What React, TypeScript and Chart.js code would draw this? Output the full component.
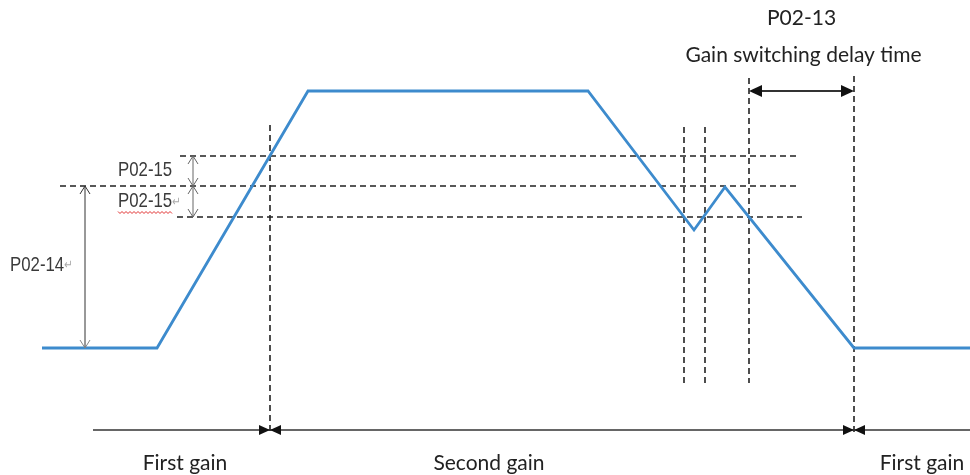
import React, { useEffect, useRef } from "react";
import { Chart, registerables } from "chart.js";

Chart.register(...registerables);

// ---- Data (time units along x, speed units along y) ----
const blueTime = [42, 157, 308, 588, 694, 725, 854, 970];
const blueSpeed = [127, 127, 384, 384, 245, 288, 127, 127];

// horizontal dashed threshold guides: P02-14 + P02-15, P02-14, P02-14 - P02-15
const guideLevels = [319, 289, 258];
const guideStart = [180, 60, 177];
const guideEnd = [798, 798, 802];

// vertical dashed event guides
const markerTimes = [270, 684, 705, 749, 854];
const markerTop = [350, 348, 348, 397, 399];
const markerBottom = [40, 92, 92, 92, 40];

// gain region bar
const gainBarSpeed = 45;
const gainBarStart = 93;
const gainBarEnd = 970;
const gainSwitchTimes = [270, 854];
const gainLabels = ["First gain", "Second gain", "First gain"];
const gainLabelTimes = [185, 489, 922];

// delay arrow
const delaySpeed = 384;
const delayLabelTop = "P02-13";
const delayLabelBottom = "Gain switching delay time";

// parameter arrows
const p14Time = 85;
const p14Label = "P02-14";
const p15Time = 193;
const p15Label = "P02-15";
const baseSpeed = 127;

export default function App() {
  const ref = useRef<HTMLCanvasElement | null>(null);

  useEffect(() => {
    document.body.style.margin = "0";
    const canvas = ref.current;
    if (!canvas) return;

    const datasets: any[] = [
      {
        data: blueTime.map((t, i) => ({ x: t, y: blueSpeed[i] })),
        borderColor: "#3d8bcd",
        borderWidth: 2.8,
        pointRadius: 0,
        tension: 0,
        order: 0,
      },
    ];
    guideLevels.forEach((lv, i) => {
      datasets.push({
        data: [
          { x: guideStart[i], y: lv },
          { x: guideEnd[i], y: lv },
        ],
        borderColor: "#222",
        borderWidth: 1.6,
        borderDash: [6, 4],
        pointRadius: 0,
        order: 1,
      });
    });
    markerTimes.forEach((t, i) => {
      datasets.push({
        data: [
          { x: t, y: markerTop[i] },
          { x: t, y: markerBottom[i] },
        ],
        borderColor: "#222",
        borderWidth: 1.6,
        borderDash: [6, 4],
        pointRadius: 0,
        order: 1,
      });
    });

    const annot = {
      id: "annot",
      afterDatasetsDraw(chart: any) {
        const ctx: CanvasRenderingContext2D = chart.ctx;
        const xs = chart.scales.x;
        const ys = chart.scales.y;
        const X = (v: number) => xs.getPixelForValue(v);
        const Y = (v: number) => ys.getPixelForValue(v);

        const line = (x1: number, y1: number, x2: number, y2: number, color: string, w: number) => {
          ctx.save();
          ctx.strokeStyle = color;
          ctx.lineWidth = w;
          ctx.beginPath();
          ctx.moveTo(x1, y1);
          ctx.lineTo(x2, y2);
          ctx.stroke();
          ctx.restore();
        };
        const tri = (x: number, y: number, dx: number, dy: number, len: number, half: number, color: string) => {
          ctx.save();
          ctx.fillStyle = color;
          ctx.beginPath();
          ctx.moveTo(x, y);
          const bx = x - dx * len;
          const by = y - dy * len;
          ctx.lineTo(bx - dy * half, by + dx * half);
          ctx.lineTo(bx + dy * half, by - dx * half);
          ctx.closePath();
          ctx.fill();
          ctx.restore();
        };
        const chevron = (x: number, y: number, dx: number, dy: number, len: number, half: number, color: string) => {
          ctx.save();
          ctx.strokeStyle = color;
          ctx.lineWidth = 1;
          ctx.beginPath();
          const bx = x - dx * len;
          const by = y - dy * len;
          ctx.moveTo(bx - dy * half, by + dx * half);
          ctx.lineTo(x, y);
          ctx.lineTo(bx + dy * half, by - dx * half);
          ctx.stroke();
          ctx.restore();
        };

        // gain bar
        const gy = Y(gainBarSpeed);
        line(X(gainBarStart), gy, X(gainBarEnd), gy, "#333", 1.5);
        gainSwitchTimes.forEach((t) => {
          tri(X(t), gy, 1, 0, 11, 5, "#111");
          tri(X(t), gy, -1, 0, 11, 5, "#111");
        });

        // delay arrow
        const dy = Y(delaySpeed);
        const dx1 = X(markerTimes[3]);
        const dx2 = X(markerTimes[4]);
        line(dx1 + 4, dy, dx2 - 4, dy, "#333", 2.2);
        tri(dx1, dy, -1, 0, 13, 6, "#111");
        tri(dx2, dy, 1, 0, 13, 6, "#111");

        // P02-14 arrow
        const px = X(p14Time);
        line(px, Y(guideLevels[1]), px, Y(baseSpeed), "#333", 1);
        chevron(px, Y(guideLevels[1]), 0, -1, 8, 5, "#333");
        chevron(px, Y(baseSpeed), 0, 1, 8, 5, "#888");

        // P02-15 arrows
        const qx = X(p15Time);
        line(qx, Y(guideLevels[0]), qx, Y(guideLevels[2]), "#666", 1);
        chevron(qx, Y(guideLevels[0]), 0, -1, 8, 5, "#666");
        chevron(qx, Y(guideLevels[1]), 0, 1, 8, 5, "#666");
        chevron(qx, Y(guideLevels[1]), 0, -1, 8, 5, "#666");
        chevron(qx, Y(guideLevels[2]), 0, 1, 8, 5, "#666");

        // P-labels (condensed Arial-like)
        const sx = 0.8;
        const condensed = (text: string, x: number, y: number, ret: boolean) => {
          ctx.save();
          ctx.translate(x, y);
          ctx.scale(sx, 1);
          ctx.font = "21px 'Liberation Sans', Arial, sans-serif";
          ctx.fillStyle = "#3a3a3a";
          ctx.textAlign = "left";
          ctx.textBaseline = "middle";
          ctx.fillText(text, 0, 0);
          const w = ctx.measureText(text).width;
          if (ret) {
            ctx.font = "13px 'DejaVu Sans', sans-serif";
            ctx.fillStyle = "#aaa";
            ctx.fillText("\u21B5", w, 1);
          }
          ctx.restore();
          return w * sx;
        };
        const midA = (Y(guideLevels[0]) + Y(guideLevels[1])) / 2 - 1;
        const midB = (Y(guideLevels[1]) + Y(guideLevels[2])) / 2;
        condensed(p15Label, X(118), midA, false);
        const w2 = condensed(p15Label, X(118), midB, true);
        // red wavy underline
        ctx.save();
        ctx.strokeStyle = "#e03030";
        ctx.lineWidth = 1;
        ctx.beginPath();
        const uy = midB + 10;
        for (let i = 0; i <= Math.floor(w2 / 2); i++) {
          const xx = X(118) + i * 2;
          const yy = uy + (i % 2 === 0 ? 0 : 2);
          if (i === 0) ctx.moveTo(xx, yy);
          else ctx.lineTo(xx, yy);
        }
        ctx.stroke();
        ctx.restore();
        condensed(p14Label, X(10), (Y(guideLevels[1]) + Y(baseSpeed)) / 2 - 2, true);

        // Calibri-like labels
        ctx.save();
        ctx.fillStyle = "#222";
        ctx.textAlign = "center";
        ctx.textBaseline = "middle";
        ctx.font = "21px Lato, 'Open Sans', sans-serif";
        gainLabels.forEach((lb, i) => {
          ctx.fillText(lb, X(gainLabelTimes[i]), gy + 33);
        });
        const cx = (dx1 + dx2) / 2;
        ctx.font = "21px Lato, 'Open Sans', sans-serif";
        ctx.fillText(delayLabelTop, cx, 18);
        ctx.fillText(delayLabelBottom, cx + 2, 55);
        ctx.restore();
      },
    };

    const chart = new Chart(canvas, {
      type: "line",
      data: { datasets },
      options: {
        animation: false,
        responsive: false,
        layout: { padding: 0 },
        plugins: { legend: { display: false }, tooltip: { enabled: false } },
        scales: {
          x: { type: "linear", min: 0, max: 970, display: false },
          y: { type: "linear", min: 0, max: 475, display: false },
        },
      },
      plugins: [annot],
    });
    return () => chart.destroy();
  }, []);

  return (
    <div style={{ width: 970, height: 475, background: "#fff" }}>
      <canvas ref={ref} width={970} height={475} style={{ display: "block" }} />
    </div>
  );
}
